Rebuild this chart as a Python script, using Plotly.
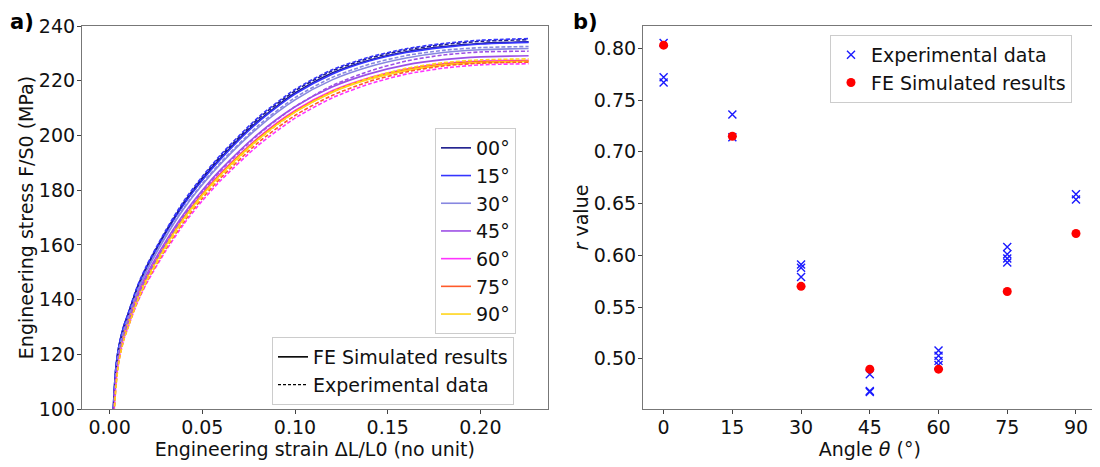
import plotly.graph_objects as go

# ---------------- data: panel a) ----------------
angles = ["00°", "15°", "30°", "45°", "60°", "75°", "90°"]
colors = ["#1a1a8c", "#3535ff", "#8787e0", "#9d4fe6", "#ff33ff", "#ff5a2a", "#ffd51a"]

strain = [0.0018, 0.0025, 0.0035, 0.005, 0.0075, 0.01, 0.015, 0.02, 0.03, 0.04,
          0.05, 0.06, 0.08, 0.10, 0.12, 0.14, 0.16, 0.18, 0.20, 0.226]

sim_00 = [97, 107, 116, 123, 130, 134.8, 144.5, 152, 164.3, 175, 184, 191.8, 205.2, 215.5, 222.8, 227.5, 230.6, 232.5, 233.6, 234.2]
sim_15 = [97, 107, 116, 123, 130, 134.6, 144.2, 151.7, 164, 174.7, 183.6, 191.4, 204.8, 215.1, 222.4, 227.2, 230.3, 232.2, 233.4, 234.0]
sim_30 = [96, 106, 115, 122, 129, 133.8, 143.3, 150.6, 162.7, 173.2, 182, 189.7, 202.8, 213, 220.3, 225.1, 228.3, 230.3, 231.3, 231.8]
sim_45 = [95, 105, 114, 121, 128, 132.7, 142, 149.2, 161, 171.3, 180, 187.6, 200.5, 210.5, 217.7, 222.5, 225.8, 227.7, 228.7, 229.1]
sim_60 = [94, 104, 113, 120.5, 127.3, 132, 141.2, 148.3, 160, 170.2, 178.8, 186.3, 199.1, 209.1, 216.3, 221.1, 224.3, 226.3, 227.2, 227.5]
sim_75 = [93, 103, 112.5, 120, 127, 131.7, 140.9, 148, 159.7, 169.9, 178.5, 186, 198.8, 208.8, 216, 220.8, 224, 226, 226.9, 227.2]
sim_90 = [92, 102, 112, 119.5, 126.6, 131.4, 140.6, 147.7, 159.4, 169.6, 178.2, 185.7, 198.5, 208.5, 215.7, 220.5, 223.7, 225.7, 226.6, 227.0]

exp_00 = [95, 105, 115, 122.5, 129.5, 134.5, 144.5, 152, 164.5, 175.5, 184.5, 192.5, 206, 216.3, 223.6, 228.2, 231.3, 233.2, 234.4, 235.0]
exp_15 = [96, 106, 116, 123, 130, 135, 145, 152.5, 165, 176, 185, 193, 206.5, 216.8, 224, 228.6, 231.7, 233.6, 234.8, 235.4]
exp_30 = [94, 104, 114, 121.5, 128.5, 133.5, 143.2, 150.7, 163, 173.5, 182.4, 190.2, 203.5, 213.8, 221.2, 226, 229.2, 231.1, 232.1, 232.5]
exp_45 = [92, 102, 112, 119.5, 126.5, 131.5, 141, 148.3, 160.3, 170.7, 179.5, 187.2, 200.2, 210.5, 218.2, 223.5, 227.2, 229.4, 230.5, 230.8]
exp_60 = [90.5, 100, 110, 118, 125.2, 130, 139, 146, 157.5, 167.6, 176.1, 183.6, 196.3, 206.3, 213.7, 218.8, 222.4, 224.6, 225.8, 226.2]
exp_75 = [90, 99, 109, 117.5, 125, 130, 139.3, 146.5, 158.2, 168.4, 177, 184.5, 197.3, 207.3, 214.6, 219.7, 223.2, 225.4, 226.4, 226.8]
exp_90 = [90, 99, 109, 117.5, 125, 130, 139.5, 146.8, 158.6, 169, 177.7, 185.3, 198.3, 208.5, 215.9, 221, 224.5, 226.6, 227.6, 228.0]

sim_curves = [sim_00, sim_15, sim_30, sim_45, sim_60, sim_75, sim_90]
exp_curves = [exp_00, exp_15, exp_30, exp_45, exp_60, exp_75, exp_90]

# ---------------- data: panel b) ----------------
exp_angle = [0, 0, 0, 15, 15, 30, 30, 30, 45, 45, 45, 60, 60, 60, 60, 75, 75, 75, 75, 90, 90]
exp_r = [0.805, 0.772, 0.767, 0.736, 0.714, 0.591, 0.588, 0.579, 0.485, 0.469, 0.468,
         0.508, 0.503, 0.498, 0.494, 0.608, 0.601, 0.597, 0.593, 0.659, 0.654]
sim_angle = [0, 15, 30, 45, 60, 75, 90]
sim_r = [0.803, 0.715, 0.570, 0.490, 0.490, 0.565, 0.621]
angle_ticks = [0, 15, 30, 45, 60, 75, 90]

FONT = "DejaVu Sans"
FS = 19
# the page body has an 8px margin: size the figure so that it fills the 1100x467 window
OFF = 8
W, H = 1100 - OFF, 467 - OFF


def xp(px):
    return (px - OFF) / W


def yp(py):
    return 1 - (py - OFF) / H


fig = go.Figure()

for name, col, s in zip(angles, colors, sim_curves):
    fig.add_trace(go.Scatter(x=strain, y=s, mode="lines", name=name,
                             line=dict(color=col, width=1.6, shape="spline", smoothing=0.7),
                             xaxis="x", yaxis="y", legend="legend"))
for name, col, e in zip(angles, colors, exp_curves):
    fig.add_trace(go.Scatter(x=strain, y=e, mode="lines", name=name + " exp",
                             line=dict(color=col, width=1.6, dash="4px,2px", shape="spline", smoothing=0.7),
                             xaxis="x", yaxis="y", showlegend=False))

# line-style legend entries
fig.add_trace(go.Scatter(x=[None], y=[None], mode="lines", name="FE Simulated results",
                         line=dict(color="black", width=1.6), xaxis="x", yaxis="y", legend="legend2"))
fig.add_trace(go.Scatter(x=[None], y=[None], mode="lines", name="Experimental data",
                         line=dict(color="black", width=1.2, dash="3px,2px"), xaxis="x", yaxis="y", legend="legend2"))

# panel b
fig.add_trace(go.Scatter(x=exp_angle, y=exp_r, mode="markers", name="Experimental data",
                         marker=dict(symbol="x-thin-open", size=8, color="#1a1aff",
                                     line=dict(color="#1a1aff", width=1.4)),
                         xaxis="x2", yaxis="y2", legend="legend3"))
fig.add_trace(go.Scatter(x=sim_angle, y=sim_r, mode="markers", name="FE Simulated results",
                         marker=dict(symbol="circle", size=9, color="#ff0000"),
                         xaxis="x2", yaxis="y2", legend="legend3"))

axis_common = dict(showgrid=False, zeroline=False, showline=True, linecolor="#777", linewidth=1.2,
                   mirror=True, ticks="outside", ticklen=4, tickcolor="#444", tickwidth=1.2,
                   automargin=False,
                   tickfont=dict(family=FONT, size=FS, color="#111"))

ydom = [yp(409), yp(26)]

fig.update_layout(
    width=W, height=H,
    margin=dict(l=0, r=0, t=0, b=0, autoexpand=False),
    paper_bgcolor="white", plot_bgcolor="white",
    font=dict(family=FONT, size=FS, color="#111"),
    xaxis=dict(domain=[xp(82), xp(547.5)], range=[-0.0149, 0.2362], anchor="y",
               tickvals=[0, 0.05, 0.10, 0.15, 0.20], ticktext=["0.00", "0.05", "0.10", "0.15", "0.20"],
               ticklabelstandoff=-3,
               title=dict(text="Engineering strain ΔL/L0 (no unit)", standoff=2,
                          font=dict(family=FONT, size=FS)), **axis_common),
    yaxis=dict(domain=ydom, range=[100, 240], anchor="x", tickvals=list(range(100, 241, 20)),
               ticklabelstandoff=-2,
               title=dict(text="Engineering stress F/S0 (MPa)", standoff=0,
                          font=dict(family=FONT, size=FS)), **axis_common),
    xaxis2=dict(domain=[xp(643), xp(1096.6)], range=[-4.5, 94.5], anchor="y2",
                tickvals=angle_ticks, ticklabelstandoff=-3,
                title=dict(text="Angle <i>θ</i> (°)", standoff=2, font=dict(family=FONT, size=FS)),
                **axis_common),
    yaxis2=dict(domain=ydom, range=[0.4515, 0.8215], anchor="x2",
                tickvals=[0.50, 0.55, 0.60, 0.65, 0.70, 0.75, 0.80],
                ticktext=["0.50", "0.55", "0.60", "0.65", "0.70", "0.75", "0.80"],
                ticklabelstandoff=-2,
                title=dict(text="<i>r</i> value", standoff=0, font=dict(family=FONT, size=FS)),
                **axis_common),
    legend=dict(x=xp(435), y=yp(128), xanchor="left", yanchor="top",
                bgcolor="rgba(255,255,255,0.85)", bordercolor="#cccccc", borderwidth=1,
                font=dict(family=FONT, size=FS), tracegroupgap=0),
    legend2=dict(x=xp(272), y=yp(337), xanchor="left", yanchor="top",
                 bgcolor="rgba(255,255,255,0.85)", bordercolor="#cccccc", borderwidth=1,
                 font=dict(family=FONT, size=FS)),
    legend3=dict(x=xp(830), y=yp(35), xanchor="left", yanchor="top",
                 bgcolor="rgba(255,255,255,0.85)", bordercolor="#cccccc", borderwidth=1,
                 font=dict(family=FONT, size=FS)),
    annotations=[
        dict(text="<b>a)</b>", x=xp(8), y=yp(22), xref="paper", yref="paper",
             xanchor="left", yanchor="middle", showarrow=False, font=dict(family=FONT, size=21, color="black")),
        dict(text="<b>b)</b>", x=xp(571), y=yp(22), xref="paper", yref="paper",
             xanchor="left", yanchor="middle", showarrow=False, font=dict(family=FONT, size=21, color="black")),
    ],
)

fig.write_html("out.html")
